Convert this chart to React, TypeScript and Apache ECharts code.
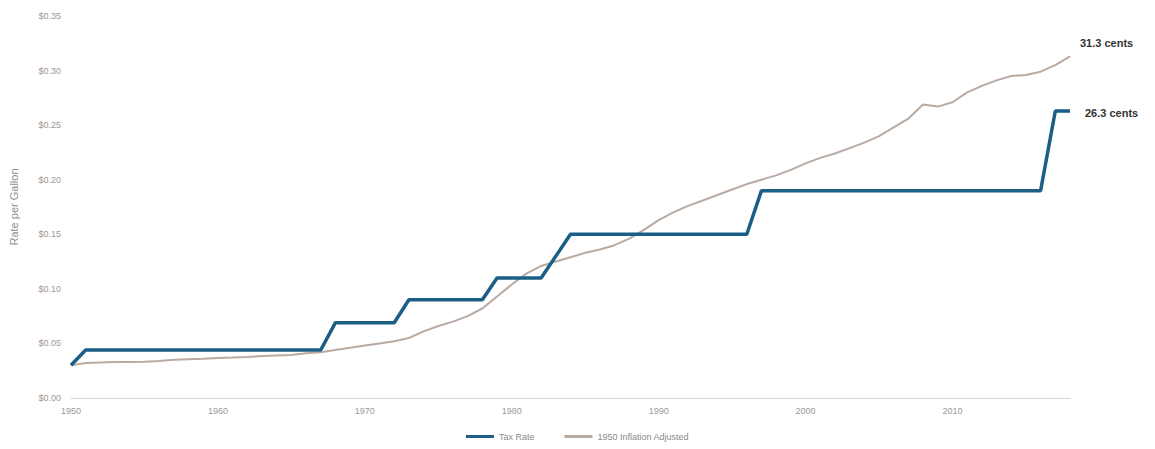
import React, { useEffect, useRef } from "react";
import * as echarts from "echarts";

const years: string[] = [];
for (let y = 1950; y <= 2018; y++) years.push(String(y));

const taxRate: number[] = [
  0.030, 0.044, 0.044, 0.044, 0.044, 0.044, 0.044, 0.044, 0.044, 0.044, // 1950-1959
  0.044, 0.044, 0.044, 0.044, 0.044, 0.044, 0.044, 0.044, 0.069, 0.069, // 1960-1969
  0.069, 0.069, 0.069, 0.090, 0.090, 0.090, 0.090, 0.090, 0.090, 0.110, // 1970-1979
  0.110, 0.110, 0.110, 0.130, 0.150, 0.150, 0.150, 0.150, 0.150, 0.150, // 1980-1989
  0.150, 0.150, 0.150, 0.150, 0.150, 0.150, 0.150, 0.190, 0.190, 0.190, // 1990-1999
  0.190, 0.190, 0.190, 0.190, 0.190, 0.190, 0.190, 0.190, 0.190, 0.190, // 2000-2009
  0.190, 0.190, 0.190, 0.190, 0.190, 0.190, 0.190, 0.263, 0.263,        // 2010-2018
];

const inflationAdjusted: number[] = [
  0.030, 0.032, 0.0325, 0.033, 0.033, 0.0333, 0.034, 0.035, 0.0355, 0.036, // 1950-1959
  0.0367, 0.037, 0.0375, 0.0385, 0.039, 0.0395, 0.041, 0.042, 0.044, 0.046, // 1960-1969
  0.048, 0.050, 0.052, 0.055, 0.061, 0.066, 0.070, 0.075, 0.082, 0.093, // 1970-1979
  0.104, 0.114, 0.121, 0.125, 0.129, 0.133, 0.136, 0.140, 0.146, 0.154, // 1980-1989
  0.163, 0.170, 0.176, 0.181, 0.186, 0.191, 0.196, 0.200, 0.204, 0.209, // 1990-1999
  0.215, 0.220, 0.224, 0.229, 0.234, 0.240, 0.248, 0.256, 0.269, 0.267, // 2000-2009
  0.271, 0.280, 0.286, 0.291, 0.295, 0.296, 0.299, 0.305, 0.313,        // 2010-2018
];

const seriesNames = ["Tax Rate", "1950 Inflation Adjusted"];
const endLabels = ["26.3 cents", "31.3 cents"];

export default function App() {
  const ref = useRef<HTMLDivElement>(null);
  useEffect(() => {
    if (!ref.current) return;
    const chart = echarts.init(ref.current, undefined, { renderer: "svg" });
    const font = "'Liberation Sans', Arial, sans-serif";
    chart.setOption({
      animation: false,
      backgroundColor: "#ffffff",
      textStyle: { fontFamily: font },
      grid: { left: 68, right: 85, top: 16, bottom: 51, containLabel: false },
      legend: {
        bottom: 3,
        left: "center",
        itemWidth: 28,
        itemHeight: 3,
        itemGap: 30,
        icon: "rect",
        textStyle: { fontSize: 9, color: "#8a8a8a", fontFamily: font },
        data: seriesNames,
      },
      xAxis: {
        type: "category",
        data: years,
        boundaryGap: false,
        axisLine: { show: true, lineStyle: { color: "#cfcfcf", type: "dotted", width: 1 } },
        axisTick: { show: false },
        axisLabel: { interval: 9, color: "#9a9a9a", fontSize: 9, margin: 8 },
        splitLine: { show: false },
      },
      yAxis: {
        type: "value",
        min: 0,
        max: 0.35,
        interval: 0.05,
        name: "Rate per Gallon",
        nameLocation: "middle",
        nameGap: 52,
        nameTextStyle: { color: "#8f8f8f", fontSize: 11, fontFamily: font },
        axisLine: { show: false },
        axisTick: { show: false },
        splitLine: { show: false },
        axisLabel: {
          color: "#a2958d",
          fontSize: 9,
          margin: 10,
          formatter: (v: number) => "$" + v.toFixed(2),
        },
      },
      series: [
        {
          name: seriesNames[0],
          type: "line",
          data: taxRate,
          symbol: "none",
          z: 3,
          lineStyle: { color: "#1b5f86", width: 3.5 },
          itemStyle: { color: "#1b5f86" },
          endLabel: {
            show: true,
            formatter: () => endLabels[0],
            distance: 15,
            offset: [0, 2],
            color: "#333333",
            fontSize: 11,
            fontWeight: "bold",
            fontFamily: font,
          },
        },
        {
          name: seriesNames[1],
          type: "line",
          data: inflationAdjusted,
          symbol: "none",
          z: 2,
          lineStyle: { color: "#b9aaa2", width: 2 },
          itemStyle: { color: "#b9aaa2" },
          endLabel: {
            show: true,
            formatter: () => endLabels[1],
            distance: 10,
            offset: [0, -13],
            color: "#333333",
            fontSize: 11,
            fontWeight: "bold",
            fontFamily: font,
          },
        },
      ],
    });
    return () => chart.dispose();
  }, []);
  return (
    <div
      ref={ref}
      style={{ position: "fixed", left: 0, top: 0, width: 1155, height: 449 }}
    />
  );
}
